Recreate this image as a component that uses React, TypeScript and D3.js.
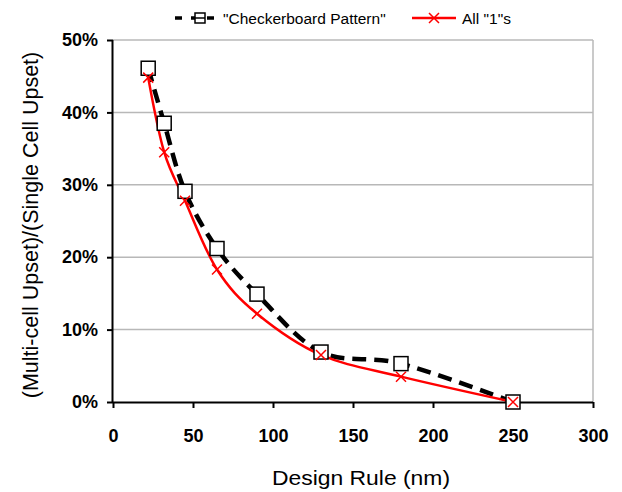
import { useRef, useEffect } from 'react'
import * as d3 from 'd3'

// values
const designRule = [22, 32, 45, 65, 90, 130, 180, 250]
const checkerboard = [0.461, 0.385, 0.291, 0.212, 0.149, 0.069, 0.053, 0.0]
const allOnes = [0.448, 0.345, 0.278, 0.183, 0.122, 0.065, 0.035, 0.0]
const xTicks = [0, 50, 100, 150, 200, 250, 300]
const yTicks = [0, 0.1, 0.2, 0.3, 0.4, 0.5]

const W = 622
const H = 492
const FONT = 'Liberation Sans, Arial, sans-serif'

export default function App() {
  const svgRef = useRef<SVGSVGElement | null>(null)

  useEffect(() => {
    const svg = d3.select(svgRef.current)
    svg.selectAll('*').remove()

    const left = 113, right = 593, top = 40, bottom = 402
    const x = d3.scaleLinear().domain([0, 300]).range([left, right])
    const y = d3.scaleLinear().domain([0, 0.5]).range([bottom, top])

    svg.append('rect').attr('width', W).attr('height', H).attr('fill', '#fff')

    // gridlines
    svg.append('g')
      .selectAll('line')
      .data(yTicks.slice(1))
      .join('line')
      .attr('x1', left).attr('x2', right)
      .attr('y1', (d) => y(d)).attr('y2', (d) => y(d))
      .attr('stroke', '#b8b8b8').attr('stroke-width', 1.5)

    // right frame
    svg.append('line')
      .attr('x1', right).attr('x2', right).attr('y1', top).attr('y2', bottom)
      .attr('stroke', '#b8b8b8').attr('stroke-width', 1.5)

    // axes
    const xAxis = svg.append('g')
      .attr('transform', `translate(0,${bottom})`)
      .call(d3.axisBottom(x).tickValues(xTicks).tickSize(6).tickPadding(21))
    const yAxis = svg.append('g')
      .attr('transform', `translate(${left},0)`)
      .call(d3.axisLeft(y).tickValues(yTicks).tickSize(6).tickPadding(9).tickFormat(d3.format('.0%')))
    ;[xAxis, yAxis].forEach((a) => {
      a.select('.domain').attr('stroke', '#000').attr('stroke-width', 2)
      a.selectAll('.tick line').attr('stroke', '#000').attr('stroke-width', 2)
      a.selectAll('.tick text')
        .attr('fill', '#000')
        .attr('font-family', FONT)
        .attr('font-size', 18)
        .attr('font-weight', 700)
    })
    yAxis.select('.domain').attr('d', `M-0.5,${top}V${bottom}`)
    xAxis.select('.domain').attr('d', `M${left},0.5H${right}`)

    const line = (vals: number[]) =>
      d3.line<number>()
        .x((_, i) => x(designRule[i]))
        .y((d) => y(d))
        .curve(d3.curveCatmullRom.alpha(0))(vals)

    // checkerboard dashed line
    svg.append('path')
      .attr('d', line(checkerboard))
      .attr('fill', 'none')
      .attr('stroke', '#000')
      .attr('stroke-width', 4.5)
      .attr('stroke-dasharray', '14,8')

    // all 1s line
    svg.append('path')
      .attr('d', line(allOnes))
      .attr('fill', 'none')
      .attr('stroke', '#ff0000')
      .attr('stroke-width', 2.5)

    const square = (g: d3.Selection<any, any, any, any>, cx: number, cy: number) =>
      g.append('rect')
        .attr('x', cx - 7).attr('y', cy - 7)
        .attr('width', 14).attr('height', 14)
        .attr('fill', '#fff').attr('stroke', '#000').attr('stroke-width', 1.5)

    const cross = (g: d3.Selection<any, any, any, any>, cx: number, cy: number) =>
      g.append('path')
        .attr('d', `M${cx - 5},${cy - 5}L${cx + 5},${cy + 5}M${cx - 5},${cy + 5}L${cx + 5},${cy - 5}`)
        .attr('stroke', '#ff0000').attr('stroke-width', 1.5)

    const marks = svg.append('g')
    designRule.forEach((d, i) => square(marks, x(d), y(checkerboard[i])))
    designRule.forEach((d, i) => cross(marks, x(d), y(allOnes[i])))

    // legend
    const lg = svg.append('g')
    const ly = 18
    lg.append('line').attr('x1', 175).attr('x2', 221).attr('y1', ly).attr('y2', ly)
      .attr('stroke', '#000').attr('stroke-width', 3.5).attr('stroke-dasharray', '7,9')
    lg.append('rect').attr('x', 195).attr('y', ly - 5).attr('width', 10).attr('height', 10)
      .attr('fill', '#fff').attr('stroke', '#000').attr('stroke-width', 1.5)
    lg.append('line').attr('x1', 195).attr('x2', 205).attr('y1', ly).attr('y2', ly)
      .attr('stroke', '#000').attr('stroke-width', 1.5)
    lg.append('text').attr('x', 223).attr('y', ly + 5.5)
      .attr('font-family', FONT).attr('font-size', 15.5).text('"Checkerboard Pattern"')
    lg.append('line').attr('x1', 412).attr('x2', 456).attr('y1', ly).attr('y2', ly)
      .attr('stroke', '#ff0000').attr('stroke-width', 2.5)
    cross(lg, 434, ly)
    lg.append('text').attr('x', 462).attr('y', ly + 5.5)
      .attr('font-family', FONT).attr('font-size', 15.5).text('All "1"s')

    // axis titles
    svg.append('text')
      .attr('x', 272).attr('y', 485)
      .attr('textLength', 178).attr('lengthAdjust', 'spacingAndGlyphs')
      .attr('font-family', FONT).attr('font-size', 20.5)
      .text('Design Rule (nm)')
    svg.append('text')
      .attr('transform', `translate(38,${(top + bottom) / 2 + 4}) rotate(-90)`)
      .attr('text-anchor', 'middle')
      .attr('font-family', FONT).attr('font-size', 21.5)
      .text('(Multi-cell Upset)/(Single Cell Upset)')
  }, [])

  return (
    <svg
      ref={svgRef}
      width={W}
      height={H}
      style={{ position: 'fixed', left: 0, top: 0, display: 'block' }}
    />
  )
}
